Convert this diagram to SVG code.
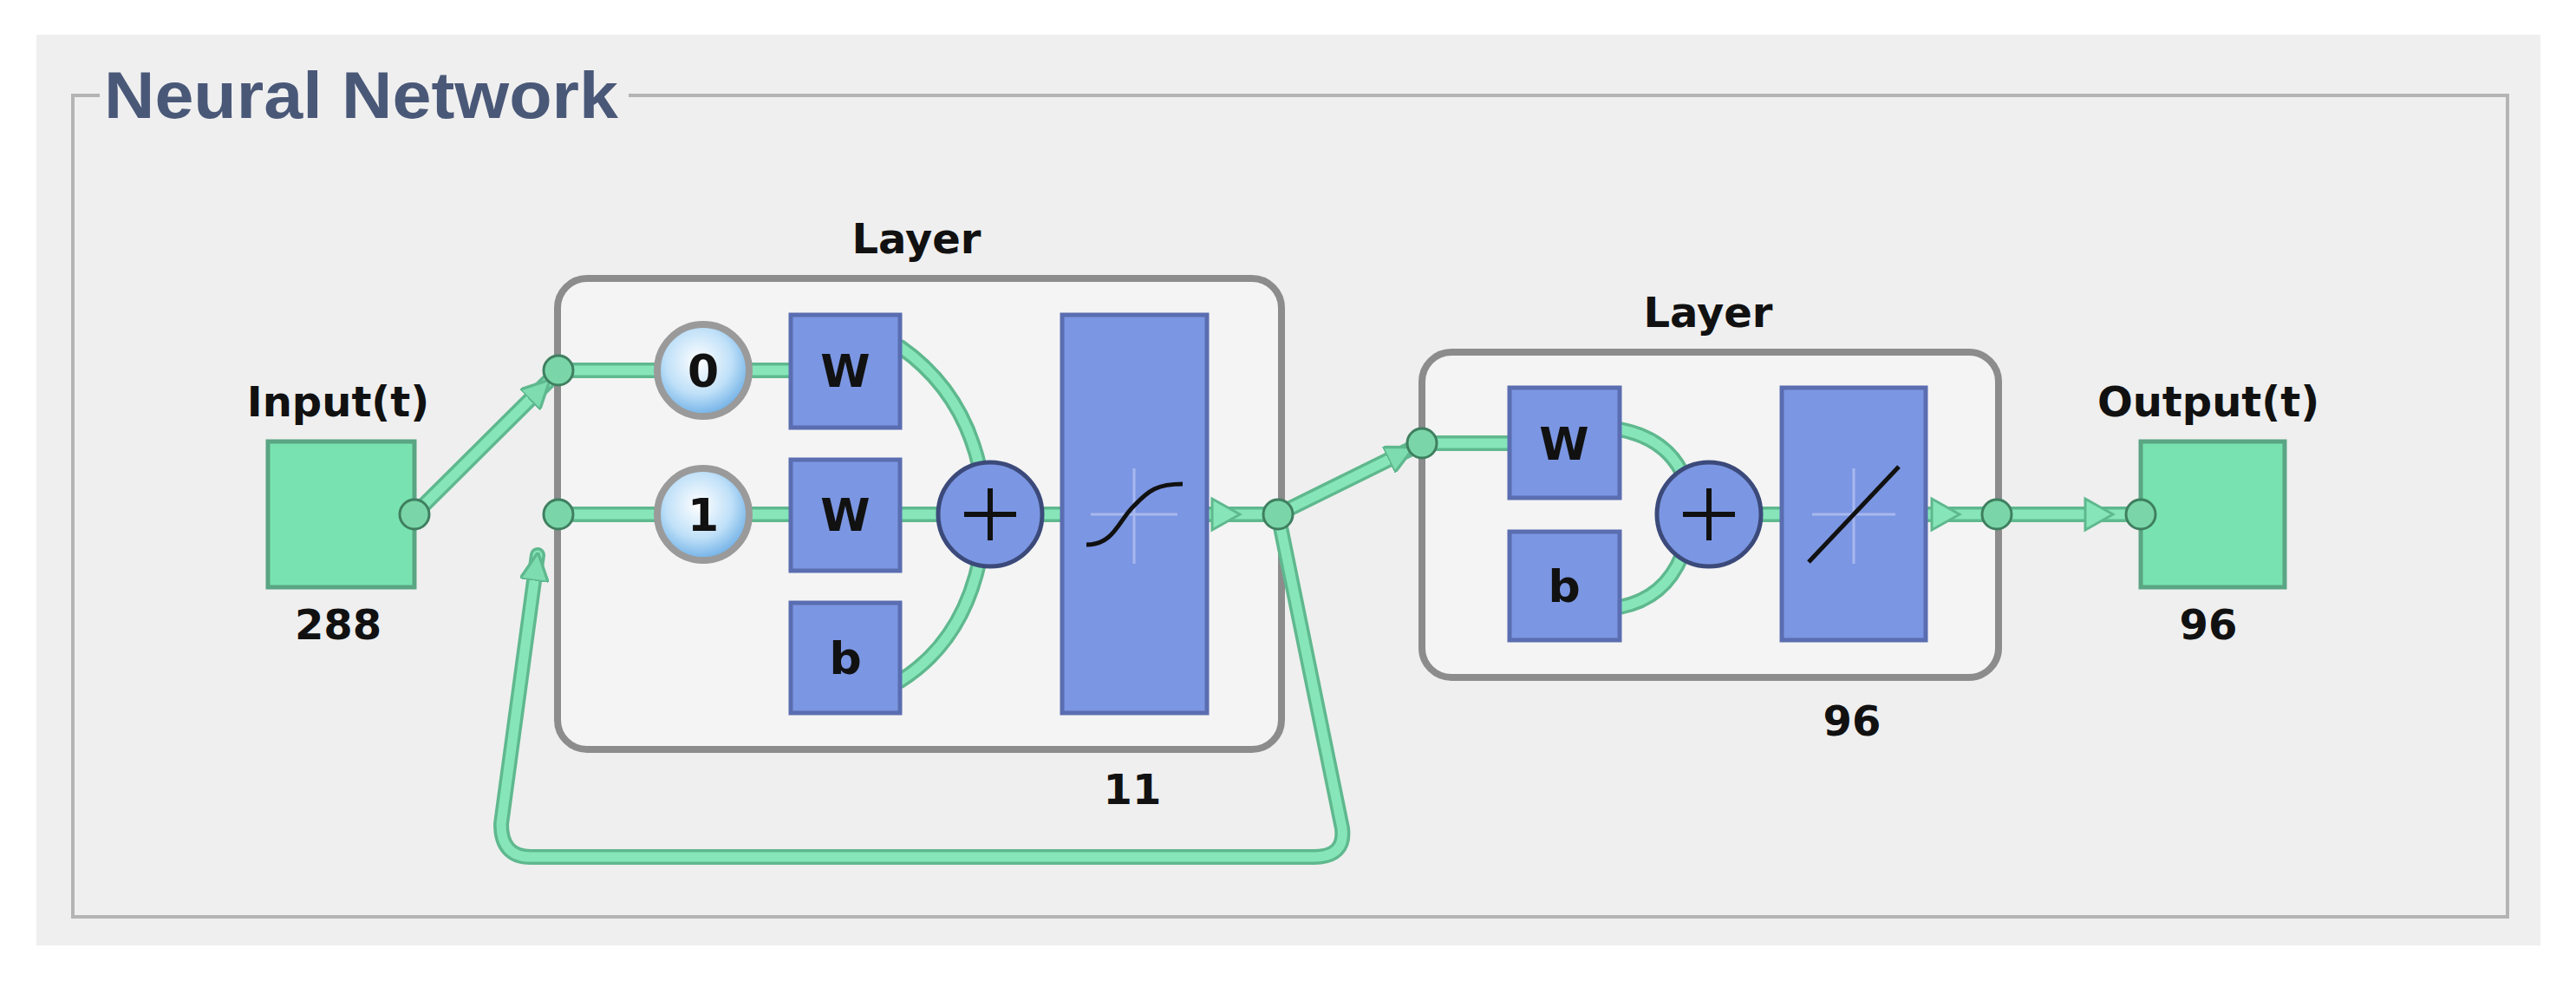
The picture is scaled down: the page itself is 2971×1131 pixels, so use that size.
<svg xmlns="http://www.w3.org/2000/svg" width="2971" height="1131" viewBox="0 0 2971 1131">
<defs>
<style>
.lbl{font-family:"DejaVu Sans","Liberation Sans",sans-serif;font-weight:bold;font-size:48px;fill:#111;text-anchor:middle}
.wire{fill:none;stroke:#5fb88e;stroke-width:18;stroke-linecap:round;stroke-linejoin:round}
.wirei{fill:none;stroke:#86e6ba;stroke-width:11;stroke-linecap:round;stroke-linejoin:round}
.blue{fill:#7b96e2;stroke:#5a6db0;stroke-width:5}
.dot{fill:#7ad6a8;stroke:#3f7f60;stroke-width:3}
.layer{fill:#f4f4f4;stroke:#8c8c8c;stroke-width:8}
.sq{fill:#78e3b0;stroke:#5aa583;stroke-width:5}
.wl{font-family:"DejaVu Sans","Liberation Sans",sans-serif;font-weight:bold;font-size:52px;fill:#111;text-anchor:middle}
</style>
<radialGradient id="dg" cx="0.45" cy="0.4" r="0.6">
<stop offset="0" stop-color="#ffffff"/><stop offset="0.6" stop-color="#bfe0f8"/><stop offset="1" stop-color="#6fb0e6"/>
</radialGradient>
<marker id="ah" viewBox="0 0 10 10" refX="9" refY="5" markerWidth="3" markerHeight="3" orient="auto" markerUnits="strokeWidth">
<path d="M0,0 L10,5 L0,10 z" fill="#7ddcb0" stroke="#5fb88e" stroke-width="1"/>
</marker>
</defs>
<rect x="0" y="0" width="2971" height="1131" fill="#ffffff"/>
<rect x="42" y="40" width="2888" height="1050" fill="#efefef"/>
<path d="M115,110 H84 V1057 H2892 V110 H725" fill="none" stroke="#b4b4b4" stroke-width="4"/>
<text x="120" y="136" font-family="Liberation Sans, Arial, sans-serif" font-weight="bold" font-size="76" fill="#4a5878" textLength="593" lengthAdjust="spacingAndGlyphs">Neural Network</text>

<g id="layer1">
<rect class="layer" x="643" y="321" width="835" height="543" rx="34"/>
<text class="lbl" x="1057" y="292">Layer</text>
<text class="lbl" x="1306" y="927">11</text>
</g>
<g id="layer2">
<rect class="layer" x="1640" y="406" width="665" height="375" rx="34"/>
<text class="lbl" x="1970" y="377">Layer</text>
<text class="lbl" x="2136" y="848">96</text>
</g>

<g id="connectors">
<path class="wire" d="M478,593 L632,440"/>
<path class="wirei" d="M478,593 L632,440" marker-end="url(#ah)"/>
<path class="wire" d="M644,427 H912 M644,593 H912 M1038,400 Q1110,450 1130,540 M1038,593 H1085 M1038,785 Q1110,740 1130,645 M1200,593 H1225 M1392,593 H1474"/>
<path class="wirei" d="M644,427 H912 M644,593 H912 M1038,400 Q1110,450 1130,540 M1038,593 H1085 M1038,785 Q1110,740 1130,645 M1200,593 H1225 M1392,593 H1474"/>
<path class="wire" d="M1474,593 L1548,955 Q1552,988 1515,988 H612 Q578,988 578,950 L620,640"/>
<path class="wirei" d="M1474,593 L1548,955 Q1552,988 1515,988 H612 Q578,988 578,950 L620,640" marker-end="url(#ah)"/>
<path class="wire" d="M1474,593 L1628,517"/>
<path class="wirei" d="M1474,593 L1628,517" marker-end="url(#ah)"/>
<path class="wire" d="M1640,511 H1741 M1868,495 Q1920,505 1940,545 M1868,700 Q1920,690 1940,640 M2030,593 H2055 M2221,593 H2303 H2469"/>
<path class="wirei" d="M1640,511 H1741 M1868,495 Q1920,505 1940,545 M1868,700 Q1920,690 1940,640 M2030,593 H2055 M2221,593 H2303 H2469"/>
<path d="M1398,575 L1430,593 L1398,611 z M2228,575 L2260,593 L2228,611 z M2405,575 L2437,593 L2405,611 z" fill="#86e6ba" stroke="#5fb88e" stroke-width="3"/>
</g>

<g id="input">
<rect class="sq" x="309" y="509" width="169" height="168"/>
<text class="lbl" x="390" y="480">Input(t)</text>
<text class="lbl" x="390" y="737">288</text>
<circle class="dot" cx="478" cy="593" r="17"/>
</g>
<g id="dots">
<circle class="dot" cx="644" cy="427" r="17"/>
<circle class="dot" cx="644" cy="593" r="17"/>
<circle class="dot" cx="1474" cy="593" r="17"/>
<circle class="dot" cx="1640" cy="511" r="17"/>
<circle class="dot" cx="2303" cy="593" r="17"/>
</g>
<g id="delay0"><circle cx="811" cy="427" r="53" fill="url(#dg)" stroke="#9a9a9a" stroke-width="8"/><text class="wl" x="811" y="446">0</text></g>
<g id="delay1"><circle cx="811" cy="593" r="53" fill="url(#dg)" stroke="#9a9a9a" stroke-width="8"/><text class="wl" x="811" y="612">1</text></g>
<g id="w1"><rect class="blue" x="912" y="363" width="126" height="130"/><text class="wl" x="975" y="446">W</text></g>
<g id="w2"><rect class="blue" x="912" y="530" width="126" height="128"/><text class="wl" x="975" y="612">W</text></g>
<g id="b1"><rect class="blue" x="912" y="695" width="126" height="127"/><text class="wl" x="975" y="777">b</text></g>
<g id="sum1"><circle cx="1142" cy="593" r="60" fill="#7b96e2" stroke="#3b4a7a" stroke-width="5"/><path d="M1142,563 V623 M1112,593 H1172" stroke="#111" stroke-width="6"/></g>
<g id="tansig"><rect class="blue" x="1225" y="363" width="167" height="459"/>
<path d="M1308,540 V650 M1258,593 H1358" stroke="#a8b8ee" stroke-width="3"/>
<path d="M1253,628 C1285,628 1290,600 1308,583 C1325,565 1335,558 1364,558" fill="none" stroke="#111" stroke-width="5"/></g>
<g id="w3"><rect class="blue" x="1741" y="447" width="127" height="127"/><text class="wl" x="1804" y="530">W</text></g>
<g id="b2"><rect class="blue" x="1741" y="613" width="127" height="125"/><text class="wl" x="1804" y="694">b</text></g>
<g id="sum2"><circle cx="1971" cy="593" r="60" fill="#7b96e2" stroke="#3b4a7a" stroke-width="5"/><path d="M1971,563 V623 M1941,593 H2001" stroke="#111" stroke-width="6"/></g>
<g id="purelin"><rect class="blue" x="2055" y="447" width="166" height="291"/>
<path d="M2138,540 V650 M2090,593 H2186" stroke="#a8b8ee" stroke-width="3"/>
<path d="M2086,648 L2190,538" stroke="#111" stroke-width="5"/></g>
<g id="output">
<rect class="sq" x="2469" y="509" width="166" height="168"/>
<text class="lbl" x="2547" y="480">Output(t)</text>
<text class="lbl" x="2547" y="737">96</text>
<circle class="dot" cx="2469" cy="593" r="17"/>
</g>
</svg>
